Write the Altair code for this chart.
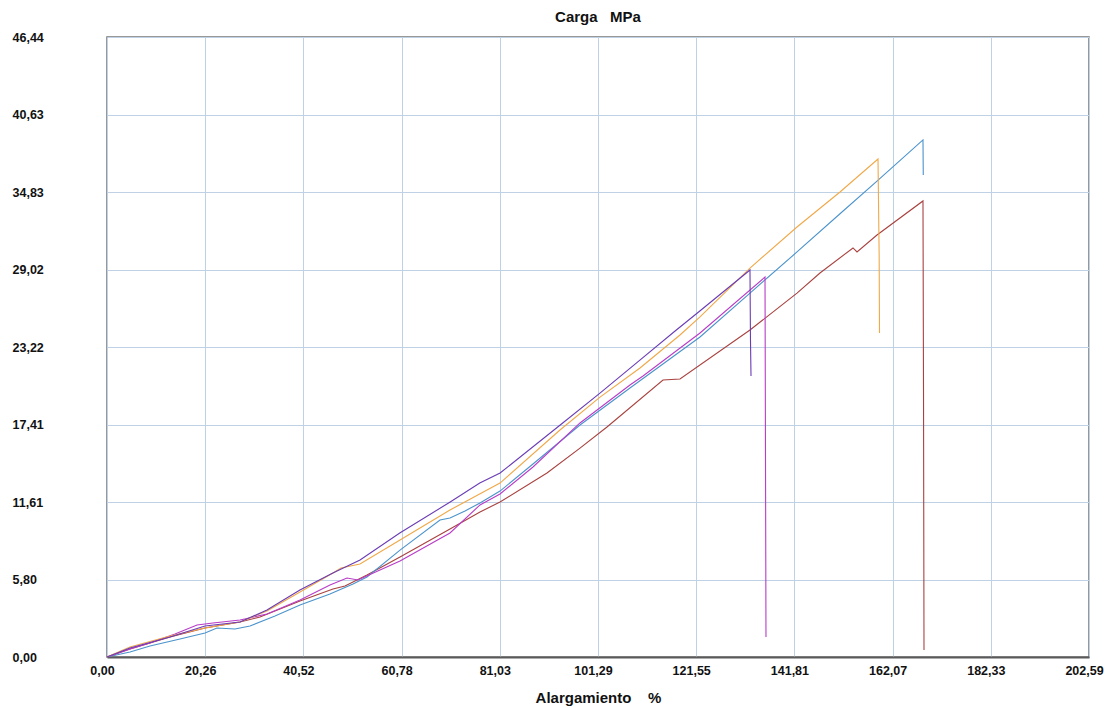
import altair as alt
import pandas as pd

# Tick values (labels are shown with a decimal comma)
x_ticks = [0.00, 20.26, 40.52, 60.78, 81.03, 101.29, 121.55, 141.81, 162.07, 182.33, 202.59]
y_ticks = [0.00, 5.80, 11.61, 17.41, 23.22, 29.02, 34.83, 40.63, 46.44]

series_names = ["rojo", "azul", "magenta", "naranja", "violeta"]
series_colors = ["#a8423f", "#4b93cc", "#b83cc8", "#f0a848", "#6a3cb4"]

rojo_x = [0, 4.74, 13.0, 20.22, 27.44, 31.56, 39.82, 46.62, 49.10, 53.64, 60.45, 70.76, 76.95, 81.08,
          90.77, 97.58, 103.15, 114.70, 118.21, 132.65, 142.35, 147.09, 153.90, 154.73, 158.85, 168.34,
          168.45, 168.55]
rojo_y = [0, 0.60, 1.50, 2.17, 2.62, 3.00, 4.19, 5.09, 5.32, 6.14, 7.49, 9.59, 10.86, 11.61,
          13.78, 15.65, 17.23, 20.75, 20.82, 24.49, 27.26, 28.76, 30.64, 30.34, 31.61, 34.16,
          20.0, 0.52]

azul_x = [0, 4.74, 8.87, 15.06, 20.22, 22.69, 26.41, 29.50, 34.66, 39.82, 46.0, 50.75, 53.64, 60.45,
          68.70, 70.76, 73.86, 76.95, 81.08, 87.88, 97.58, 107.89, 122.34, 132.65, 142.35, 151.22,
          158.85, 168.34, 168.40]
azul_y = [0, 0.37, 0.82, 1.35, 1.80, 2.17, 2.10, 2.32, 3.07, 3.89, 4.72, 5.47, 5.99, 8.01,
          10.26, 10.41, 10.94, 11.54, 12.43, 14.46, 17.38, 20.15, 23.97, 27.26, 30.34, 33.20,
          35.65, 38.73, 36.10]

magenta_x = [0, 4.74, 8.87, 14.03, 18.57, 21.87, 27.44, 33.0, 39.82, 46.0, 49.51, 51.78, 56.32, 60.45,
             70.76, 76.95, 81.08, 87.88, 97.58, 107.89, 110.58, 122.34, 135.75, 135.85, 135.95]
magenta_y = [0, 0.60, 1.05, 1.72, 2.40, 2.55, 2.77, 3.22, 4.27, 5.39, 5.92, 5.77, 6.52, 7.19,
             9.29, 11.39, 12.21, 14.23, 17.53, 20.37, 21.05, 24.27, 28.46, 15.0, 1.50]

naranja_x = [0, 4.74, 13.0, 20.22, 27.44, 33.0, 39.82, 46.62, 48.27, 52.2, 60.45, 70.76, 81.08,
             93.45, 101.71, 109.96, 118.21, 122.34, 132.65, 142.35, 151.22, 159.06, 159.3, 159.37]
naranja_y = [0, 0.75, 1.57, 2.17, 2.62, 3.45, 4.87, 6.29, 6.67, 6.97, 8.76, 11.01, 13.03,
             17.0, 19.47, 21.65, 24.12, 25.47, 29.13, 32.21, 34.83, 37.30, 30.0, 24.27]

violeta_x = [0, 4.74, 13.0, 20.22, 27.44, 33.0, 39.8, 46.6, 52.2, 60.4, 70.8, 76.9, 81.1, 93.5,
             101.7, 110.0, 117.2, 122.3, 132.65, 132.75, 132.86]
violeta_y = [0, 0.67, 1.50, 2.32, 2.62, 3.52, 5.02, 6.29, 7.27, 9.29, 11.61, 13.03, 13.78, 17.38,
             19.77, 22.25, 24.42, 25.92, 28.99, 23.8, 21.05]

series_data = {
    "rojo": (rojo_x, rojo_y),
    "azul": (azul_x, azul_y),
    "magenta": (magenta_x, magenta_y),
    "naranja": (naranja_x, naranja_y),
    "violeta": (violeta_x, violeta_y),
}

rows = []
for name in series_names:
    xs, ys = series_data[name]
    for i, (xv, yv) in enumerate(zip(xs, ys)):
        rows.append({"serie": name, "idx": i, "alargamiento": xv, "carga": yv})
df = pd.DataFrame(rows)

label_expr = "replace(format(datum.value, '.2f'), '.', ',')"
font = "Liberation Sans"

chart = alt.Chart(df).mark_line(strokeWidth=1.1).encode(
    x=alt.X(
        "alargamiento:Q",
        scale=alt.Scale(domain=[0, 202.59], nice=False, zero=False),
        axis=alt.Axis(
            values=x_ticks,
            labelExpr=label_expr,
            title="Alargamiento\u00a0\u00a0\u00a0 %",
            titleY=40,
            titleBaseline="middle",
            labelFlush=False,
            labelOverlap=False,
            labelPadding=7,
            labelOffset=-5,
            ticks=False,
            tickSize=0,
            domain=True,
            domainColor="#5a5a5a",
            domainWidth=2,
        ),
    ),
    y=alt.Y(
        "carga:Q",
        scale=alt.Scale(domain=[0, 46.44], nice=False, zero=False),
        axis=alt.Axis(
            values=y_ticks,
            labelExpr=label_expr,
            title=None,
            labelAlign="left",
            labelBaseline="middle",
            labelPadding=95,
            labelOverlap=False,
            labelFlush=False,
            ticks=False,
            tickSize=0,
            domain=False,
        ),
    ),
    color=alt.Color(
        "serie:N",
        scale=alt.Scale(domain=series_names, range=series_colors),
        legend=None,
    ),
    order=alt.Order("idx:Q"),
    detail="serie:N",
).properties(
    width=982,
    height=620,
    background="white",
    autosize=alt.AutoSizeParams(type="none"),
    padding={"left": 99, "top": 29, "right": 15, "bottom": 50},
    title=alt.TitleParams(
        "Carga\u00a0\u00a0\u00a0MPa",
        frame="group",
        anchor="middle",
        offset=6,
        font=font,
        fontSize=15,
        fontWeight="bold",
        color="#111111",
    ),
).configure_view(
    stroke="#777777",
    strokeWidth=1.5,
).configure_axis(
    labelFont=font,
    labelFontSize=12.5,
    labelFontWeight="bold",
    labelColor="#111111",
    titleFont=font,
    titleFontSize=15,
    titleFontWeight="bold",
    titleColor="#111111",
    grid=True,
    gridColor="#bfd1e4",
    gridWidth=1,
)

chart.save("out.html", embed_options={"renderer": "svg", "actions": False})
